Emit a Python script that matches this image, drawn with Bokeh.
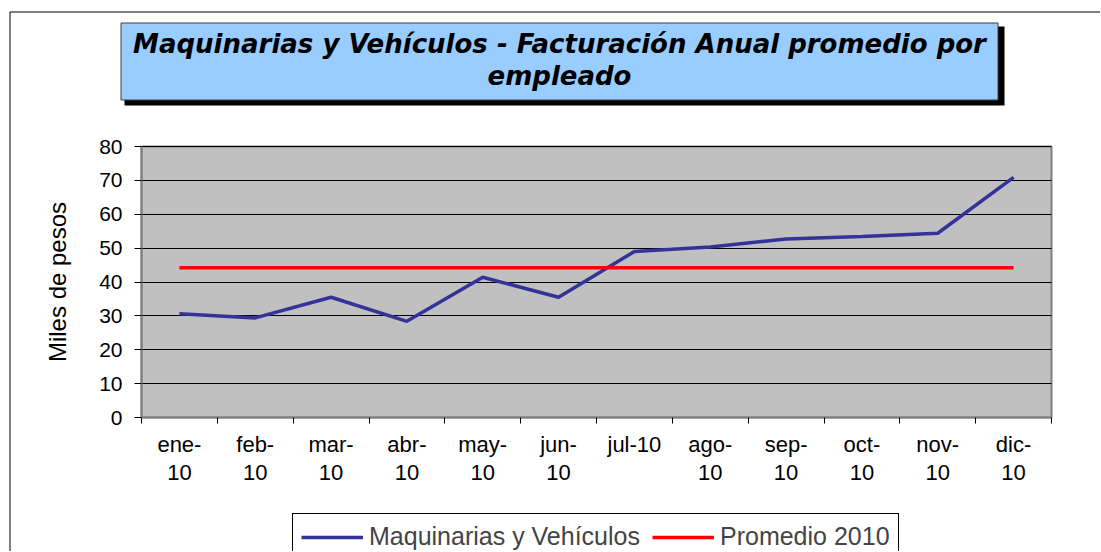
from bokeh.plotting import figure
from bokeh.models import (Range1d, FixedTicker, Legend, LegendItem, BoxAnnotation,
                          Label, ColumnDataSource)
from bokeh.embed import file_html
from bokeh.resources import INLINE

# ---- data ----
categories = ["ene-10", "feb-10", "mar-10", "abr-10", "may-10", "jun-10",
              "jul-10", "ago-10", "sep-10", "oct-10", "nov-10", "dic-10"]
category_labels = ["ene-\n10", "feb-\n10", "mar-\n10", "abr-\n10", "may-\n10", "jun-\n10",
                   "jul-10", "ago-\n10", "sep-\n10", "oct-\n10", "nov-\n10", "dic-\n10"]
maquinarias = [30.6, 29.4, 35.5, 28.4, 41.4, 35.5, 49.0, 50.3, 52.7, 53.4, 54.4, 70.9]
promedio_2010 = [44.2] * 12
y_ticks = [0, 10, 20, 30, 40, 50, 60, 70, 80]
title_line1 = "Maquinarias y Vehículos - Facturación Anual promedio por"
title_line2 = "empleado"
y_label = "Miles de pesos"
series_names = ["Maquinarias y Vehículos", "Promedio 2010"]

n = len(categories)
x_pos = [i + 0.5 for i in range(n)]
boundaries = list(range(n + 1))
source = ColumnDataSource(dict(x=x_pos, maq=maquinarias, prom=promedio_2010, cat=categories))

# ---- layout (pixels) ----
W, H = 1100, 551
AREA_L, AREA_R, AREA_T, AREA_B = 141, 1051, 146, 417   # plot-area box on the page
YMAX = 80
PPX = (AREA_R - AREA_L) / n          # px per category
PPY = (AREA_B - AREA_T) / YMAX       # px per unit


def X(px):
    return (px - AREA_L) / PPX


def Y(py):
    return (AREA_B - py) / PPY


FONT = "Liberation Sans"
TITLE_FONT = "DejaVu Sans"

p = figure(width=W, height=H, x_range=Range1d(X(0), X(W)), y_range=Range1d(Y(H), Y(0)),
           output_backend="svg", toolbar_location=None, title=None,
           min_border=0, min_border_left=0, min_border_right=0,
           min_border_top=0, min_border_bottom=0)
p.background_fill_color = "white"
p.border_fill_color = "white"
p.outline_line_color = None

# plot-area background
p.add_layout(BoxAnnotation(left=0, right=n, bottom=0, top=YMAX, level="image",
                           fill_color="#C0C0C0", fill_alpha=1,
                           line_color="#808080", line_alpha=1, line_width=2))

# grid
p.xgrid.visible = False
yg = p.ygrid[0]
yg.grid_line_color = "black"
yg.grid_line_width = 1
yg.bounds = (0, YMAX)
if "cross_bounds" in yg.properties():
    yg.cross_bounds = (0, n)
else:
    yg.visible = False
    p.segment(x0=0, x1=n, y0=y_ticks, y1=y_ticks, line_color="black", line_width=1)

# y axis
p.yaxis.fixed_location = 0
p.yaxis.bounds = (0, YMAX)
p.yaxis.ticker = FixedTicker(ticks=y_ticks)
p.yaxis.major_tick_out = 7
p.yaxis.major_tick_in = 0
p.yaxis.major_tick_line_color = "black"
p.yaxis.minor_tick_line_color = None
p.yaxis.axis_line_color = "#808080"
p.yaxis.axis_line_width = 2
p.yaxis.major_label_text_font = FONT
p.yaxis.major_label_text_font_size = "21px"
p.yaxis.major_label_text_color = "black"
p.yaxis.major_label_standoff = 12
p.yaxis.axis_label = y_label
p.yaxis.axis_label_text_font = FONT
p.yaxis.axis_label_text_font_size = "24px"
p.yaxis.axis_label_text_font_style = "normal"
p.yaxis.axis_label_text_color = "black"
p.yaxis.axis_label_standoff = 25

# x axis
p.xaxis.fixed_location = 0
p.xaxis.bounds = (0, n)
p.xaxis.ticker = FixedTicker(ticks=x_pos, minor_ticks=boundaries)
p.xaxis.major_label_overrides = {x: lab for x, lab in zip(x_pos, category_labels)}
p.xaxis.major_tick_line_color = None
p.xaxis.major_tick_out = 0
p.xaxis.major_tick_in = 0
p.xaxis.minor_tick_line_color = "black"
p.xaxis.minor_tick_out = 6
p.xaxis.minor_tick_in = 0
p.xaxis.axis_line_color = "#808080"
p.xaxis.axis_line_width = 2
p.xaxis.major_label_text_font = FONT
p.xaxis.major_label_text_font_size = "22px"
p.xaxis.major_label_text_color = "black"
p.xaxis.major_label_text_line_height = 1.15
p.xaxis.major_label_standoff = 8

# lines
r1 = p.line("x", "maq", source=source, line_color="#333399", line_width=3.5)
r2 = p.line("x", "prom", source=source, line_color="#FF0000", line_width=3.5)

# legend (location relative to bottom-left of the canvas-wide frame)
legend = Legend(items=[LegendItem(label=series_names[0], renderers=[r1]),
                       LegendItem(label=series_names[1], renderers=[r2])],
                orientation="horizontal", location=(292, -9),
                border_line_color="black", border_line_width=1, border_line_alpha=1,
                background_fill_color="white", background_fill_alpha=1,
                label_text_font=FONT, label_text_font_size="25px",
                glyph_width=62, glyph_height=22, label_standoff=6,
                spacing=12, padding=8, margin=0)
p.add_layout(legend, "center")

# outer chart frame
p.add_layout(BoxAnnotation(left=X(9.5), right=X(W + 20), top=Y(11.5), bottom=Y(H + 20),
                           fill_color=None, line_color="black", line_alpha=1, line_width=1))

# title box with shadow
p.add_layout(BoxAnnotation(left=X(124), right=X(1004), top=Y(26), bottom=Y(105),
                           fill_color="black", fill_alpha=1, line_color=None))
p.add_layout(BoxAnnotation(left=X(120.5), right=X(997.5), top=Y(22.5), bottom=Y(99.5),
                           fill_color="#99CCFF", fill_alpha=1, line_color="#404040",
                           line_alpha=1, line_width=1))
p.add_layout(Label(x=X(559), y=Y(43), text=title_line1, text_align="center",
                   text_baseline="alphabetic", text_font=TITLE_FONT,
                   text_font_style="bold italic", text_font_size="26px", text_color="black"))
p.add_layout(Label(x=X(559), y=Y(75), text=title_line2, text_align="center",
                   text_baseline="alphabetic", text_font=TITLE_FONT,
                   text_font_style="bold italic", text_font_size="26px", text_color="black"))

open("out.html", "w").write(file_html(p, INLINE))
